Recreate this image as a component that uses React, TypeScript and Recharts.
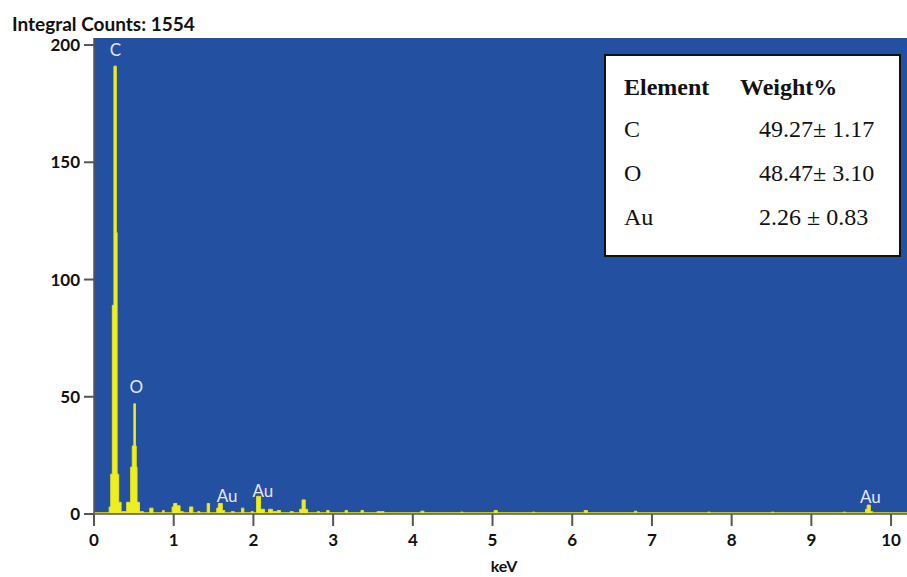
import React from 'react';
import { AreaChart, Area, XAxis, YAxis, CartesianGrid, ReferenceDot } from 'recharts';

// EDS spectrum, stepped channel counts (keV / counts)
const energyKeV = [
  0.0, 0.19, 0.21, 0.23, 0.25, 0.28, 0.29, 0.31, 0.34,
  0.41, 0.46, 0.48, 0.5, 0.52, 0.53, 0.54, 0.57, 0.62,
  0.7, 0.74, 0.86, 0.88, 0.98, 1.0, 1.04, 1.08, 1.12,
  1.2, 1.24, 1.3, 1.33, 1.42, 1.45, 1.54, 1.56, 1.61, 1.64,
  1.72, 1.76, 1.85, 1.88, 1.97, 2.0, 2.04, 2.09, 2.14,
  2.19, 2.24, 2.3, 2.34, 2.46, 2.5, 2.58, 2.61, 2.65, 2.68,
  2.8, 2.83, 2.92, 2.95, 3.15, 3.18, 3.35, 3.38, 3.55, 3.6, 3.64,
  4.1, 4.14, 4.6, 4.63, 5.02, 5.06, 5.5, 5.53, 6.15, 6.19,
  6.78, 6.81, 7.7, 7.73, 8.5, 8.53, 9.4, 9.43, 9.68, 9.7, 9.74, 9.77, 10.2,
];
const counts = [
  0.5, 3, 17, 89, 191, 120, 17, 5, 1,
  5, 20, 29, 47, 29, 20, 5, 1, 0.5,
  2.5, 0.5, 1.5, 0.5, 3, 4.5, 3.5, 1, 0.5,
  3, 0.5, 1, 0.5, 4.5, 0.5, 2.5, 4.5, 1.5, 0.5,
  1, 0.5, 2.5, 0.5, 1, 0.5, 7.5, 2, 0.5,
  2, 1, 1.5, 0.5, 1, 0.5, 2, 6, 2, 0.5,
  1, 0.5, 1.5, 0.5, 1.5, 0.5, 1.5, 0.5, 1, 1, 0.5,
  1.2, 0.5, 0.8, 0.5, 1.5, 0.5, 0.8, 0.5, 1.5, 0.5,
  1.2, 0.5, 0.8, 0.5, 0.8, 0.5, 0.8, 0.5, 2, 3.8, 1, 0.5, 0.5,
];

// element line markers
const lineNames = ['C', 'O', 'Au', 'Au', 'Au'];
const lineEnergies = [0.27, 0.53, 1.67, 2.12, 9.74];
const lineLabelCounts = [198, 54, 7.7, 9.8, 7.2];

const xTicks = [0, 1, 2, 3, 4, 5, 6, 7, 8, 9, 10];
const yTicks = [0, 50, 100, 150, 200];

// quantification table
const tableElements = ['C', 'O', 'Au'];
const tableWeights = ['49.27\u00b1 1.17', '48.47\u00b1 3.10', '2.26 \u00b1 0.83'];
const integralCounts = 1554;

const spectrum = energyKeV.map((keV, i) => ({ keV, counts: counts[i] }));

const axisFont = { fill: '#111', fontSize: 17, fontWeight: 700, fontFamily: 'Lato' };

export default function App() {
  return (
    <div style={{ position: 'absolute', left: 0, top: 0, width: 907, height: 577, background: '#fff' }}>
      <AreaChart width={907} height={577} data={spectrum} margin={{ top: 38, right: 0, left: 0, bottom: 0 }}>
        <CartesianGrid horizontal={false} vertical={false} fill="#2350a0" fillOpacity={1} />
        <XAxis
          type="number"
          dataKey="keV"
          domain={[0, 10.2]}
          ticks={xTicks}
          allowDataOverflow
          height={63}
          tickSize={12}
          tickMargin={8}
          axisLine={{ stroke: '#555', strokeWidth: 1.5 }}
          tickLine={{ stroke: '#555', strokeWidth: 2 }}
          tick={axisFont}
        />
        <YAxis
          type="number"
          domain={[0, 203]}
          ticks={yTicks}
          width={94}
          tickSize={10}
          tickMargin={4}
          axisLine={{ stroke: '#555', strokeWidth: 1.5 }}
          tickLine={{ stroke: '#555', strokeWidth: 2 }}
          tick={axisFont}
        />
        <Area
          type="stepAfter"
          dataKey="counts"
          baseValue={0}
          stroke="#e4e41c"
          strokeWidth={1}
          fill="#eeee22"
          fillOpacity={1}
          dot={false}
          activeDot={false}
          isAnimationActive={false}
        />
        {lineNames.map((name, i) => (
          <ReferenceDot
            key={i}
            x={lineEnergies[i]}
            y={lineLabelCounts[i]}
            r={1}
            fill="none"
            stroke="none"
            label={{
              value: name,
              position: 'center',
              fill: '#ece4ff',
              fontSize: 17,
              fontFamily: 'Lato',
            }}
          />
        ))}
      </AreaChart>
      <svg width={907} height={577} style={{ position: 'absolute', left: 0, top: 0, pointerEvents: 'none' }}>
        <text x={12} y={31} fontFamily="Lato" fontWeight={700} fontSize={19} fill="#111">
          Integral Counts: {integralCounts}
        </text>
        <text x={504} y={572} textAnchor="middle" fontFamily="Lato" fontWeight={700} fontSize={16} fill="#111">
          keV
        </text>
        <rect x={605} y={55} width={295} height={201} fill="#fff" stroke="#111" strokeWidth={2} />
        <g fontFamily="'Liberation Serif', serif" fontSize={24} fill="#111">
          <text x={624} y={95} fontWeight={700}>Element</text>
          <text x={740} y={95} fontWeight={700}>Weight%</text>
          {tableElements.map((el, i) => (
            <g key={el}>
              <text x={624} y={137 + i * 44}>{el}</text>
              <text x={759} y={137 + i * 44}>{tableWeights[i]}</text>
            </g>
          ))}
        </g>
      </svg>
    </div>
  );
}
